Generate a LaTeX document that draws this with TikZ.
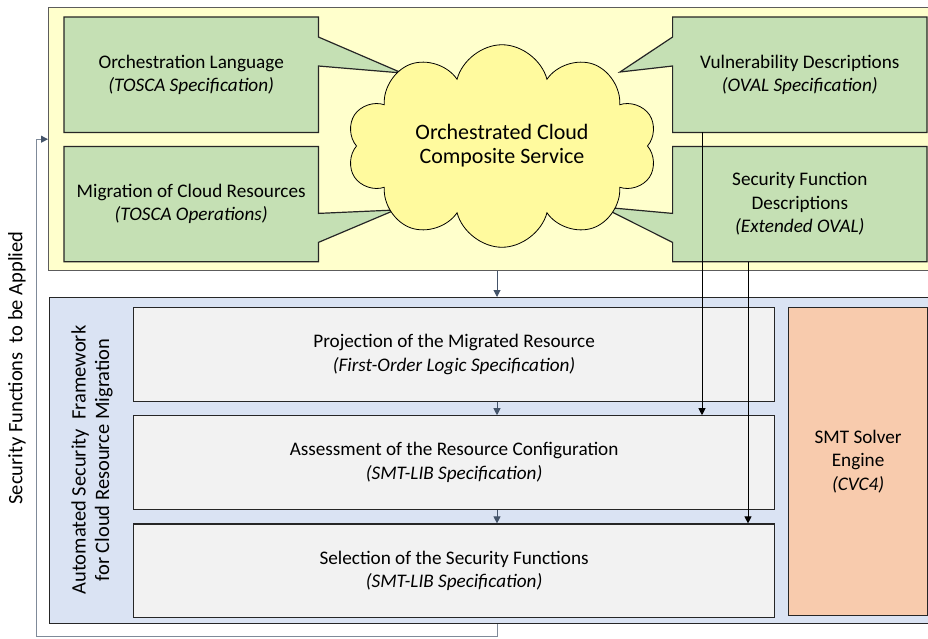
\documentclass[tikz,border=0pt]{standalone}
\usepackage{fontspec}
\setmainfont{Carlito}
\usetikzlibrary{positioning,shapes.symbols,arrows.meta,backgrounds}

\definecolor{paleyellow}{HTML}{FFFFCC}
\definecolor{cloudyellow}{HTML}{FFFA9E}
\definecolor{leafgreen}{HTML}{C5E0B4}
\definecolor{paleblue}{HTML}{DAE3F3}
\definecolor{stagegray}{HTML}{F2F2F2}
\definecolor{peach}{HTML}{F8CBAD}
\definecolor{darkline}{HTML}{262626}
\definecolor{slate}{HTML}{44546A}
\definecolor{lightslate}{HTML}{7F8A99}

\tikzset{
  txt/.style={align=center, font=\fontsize{19.2}{23.5}\selectfont},
  sidetxt/.style={align=center, font=\fontsize{20.5}{23.5}\selectfont},
  panel/.style={draw=darkline, line width=1.4pt, inner sep=0pt, anchor=north west},
  greenbox/.style={txt, minimum width=254pt, minimum height=115pt, inner sep=0pt},
  callout/.style={fill=leafgreen, draw=darkline, line width=1.2pt},
  cloudy/.style={cloud, cloud puffs=10, aspect=1.7, draw=black, line width=0.8pt,
    fill=cloudyellow, minimum width=310pt, minimum height=182pt, align=center,
    font=\fontsize{22}{24}\selectfont},
  stage/.style={txt, draw=darkline, fill=stagegray, line width=1.2pt,
    minimum width=641pt, minimum height=93.5pt, inner sep=0pt},
  solver/.style={txt, draw=darkline, fill=peach, line width=1.2pt,
    minimum width=139pt, minimum height=307.5pt, inner sep=0pt, anchor=north west},
  flow/.style={-{Triangle[length=7pt,width=7pt]}, draw=slate, line width=1pt},
  feed/.style={-{Triangle[length=7pt,width=7pt,color=slate]}, draw=lightslate, line width=1pt},
  link/.style={-{Triangle[length=7pt,width=7pt]}, draw=black, line width=1pt}
}

\begin{document}
\begin{tikzpicture}[x=1pt, y=-1pt]
  \useasboundingbox (0,0) rectangle (928,638);

  \node[greenbox, anchor=north west] (lang) at (64,17) {Orchestration Language\\\textit{(TOSCA Specification)}};
  \node[greenbox, below=14pt of lang] (migr) {Migration of Cloud Resources\\\textit{(TOSCA Operations)}};
  \node[greenbox, anchor=north east] (vuln) at (927,17) {Vulnerability Descriptions\\\textit{(OVAL Specification)}};
  \node[greenbox, below=14pt of vuln] (secf) {Security Function\\Descriptions\\\textit{(Extended OVAL)}};

  \coordinate (langtip) at (402,73);
  \coordinate (migrtip) at (395,210);
  \coordinate (vulntip) at (620,72);
  \coordinate (secftip) at (602,207);

  \begin{scope}[on background layer]
    \node[panel, fill=paleyellow, draw=darkline!75, minimum width=887pt, minimum height=263pt] (orch) at (48,7) {};
    \filldraw[callout] (lang.north west) -- (lang.north east) -- ([yshift=-20pt]lang.north east) -- (langtip)
      -- ([yshift=-49pt]lang.north east) -- (lang.south east) -- (lang.south west) -- cycle;
    \filldraw[callout] (migr.north west) -- (migr.north east) -- ([yshift=-67pt]migr.north east) -- (migrtip)
      -- ([yshift=-96pt]migr.north east) -- (migr.south east) -- (migr.south west) -- cycle;
    \filldraw[callout] (vuln.north east) -- (vuln.north west) -- ([yshift=-20pt]vuln.north west) -- (vulntip)
      -- ([yshift=-49pt]vuln.north west) -- (vuln.south west) -- (vuln.south east) -- cycle;
    \filldraw[callout] (secf.north east) -- (secf.north west) -- ([yshift=-67pt]secf.north west) -- (secftip)
      -- ([yshift=-96pt]secf.north west) -- (secf.south west) -- (secf.south east) -- cycle;
  \end{scope}

  \node[cloudy] (svc) at (502,146) {Orchestrated Cloud\\Composite Service};

  \node[panel, fill=paleblue, minimum width=886pt, minimum height=326pt] (fw) at (49,297) {};
  \node[stage, anchor=north west] (proj) at (133,307) {Projection of the Migrated Resource\\\textit{(First-Order Logic Specification)}};
  \node[stage, below=13.5pt of proj] (assess) {Assessment of the Resource Configuration\\\textit{(SMT-LIB Specification)}};
  \node[stage, below=13.5pt of assess] (select) {Selection of the Security Functions\\\textit{(SMT-LIB Specification)}};
  \node[solver] (smt) at (788,307) {SMT Solver\\Engine\\\textit{(CVC4)}};

  \node[sidetxt, rotate=90] (fwlabel) at (92,460) {Automated Security\ \ Framework\\for Cloud Resource Migration};
  \node[sidetxt, rotate=90] (applied) at (17,368) {Security Functions\ \ to be Applied};

  \coordinate (spine) at (497,0);
  \coordinate (vtap) at (702,0);
  \coordinate (stap) at (748,0);
  \coordinate (loop) at (36,636);

  \draw[flow] (spine |- orch.south) -- (spine |- fw.north);
  \draw[flow] (spine |- proj.south) -- (spine |- assess.north);
  \draw[flow] (spine |- assess.south) -- (spine |- select.north);
  \draw[link] (vtap |- vuln.south) -- (vtap |- assess.north);
  \draw[link] (stap |- secf.south) -- (stap |- select.north);
  \draw[feed] (spine |- fw.south) |- (loop) |- (orch.west);
\end{tikzpicture}
\end{document}
